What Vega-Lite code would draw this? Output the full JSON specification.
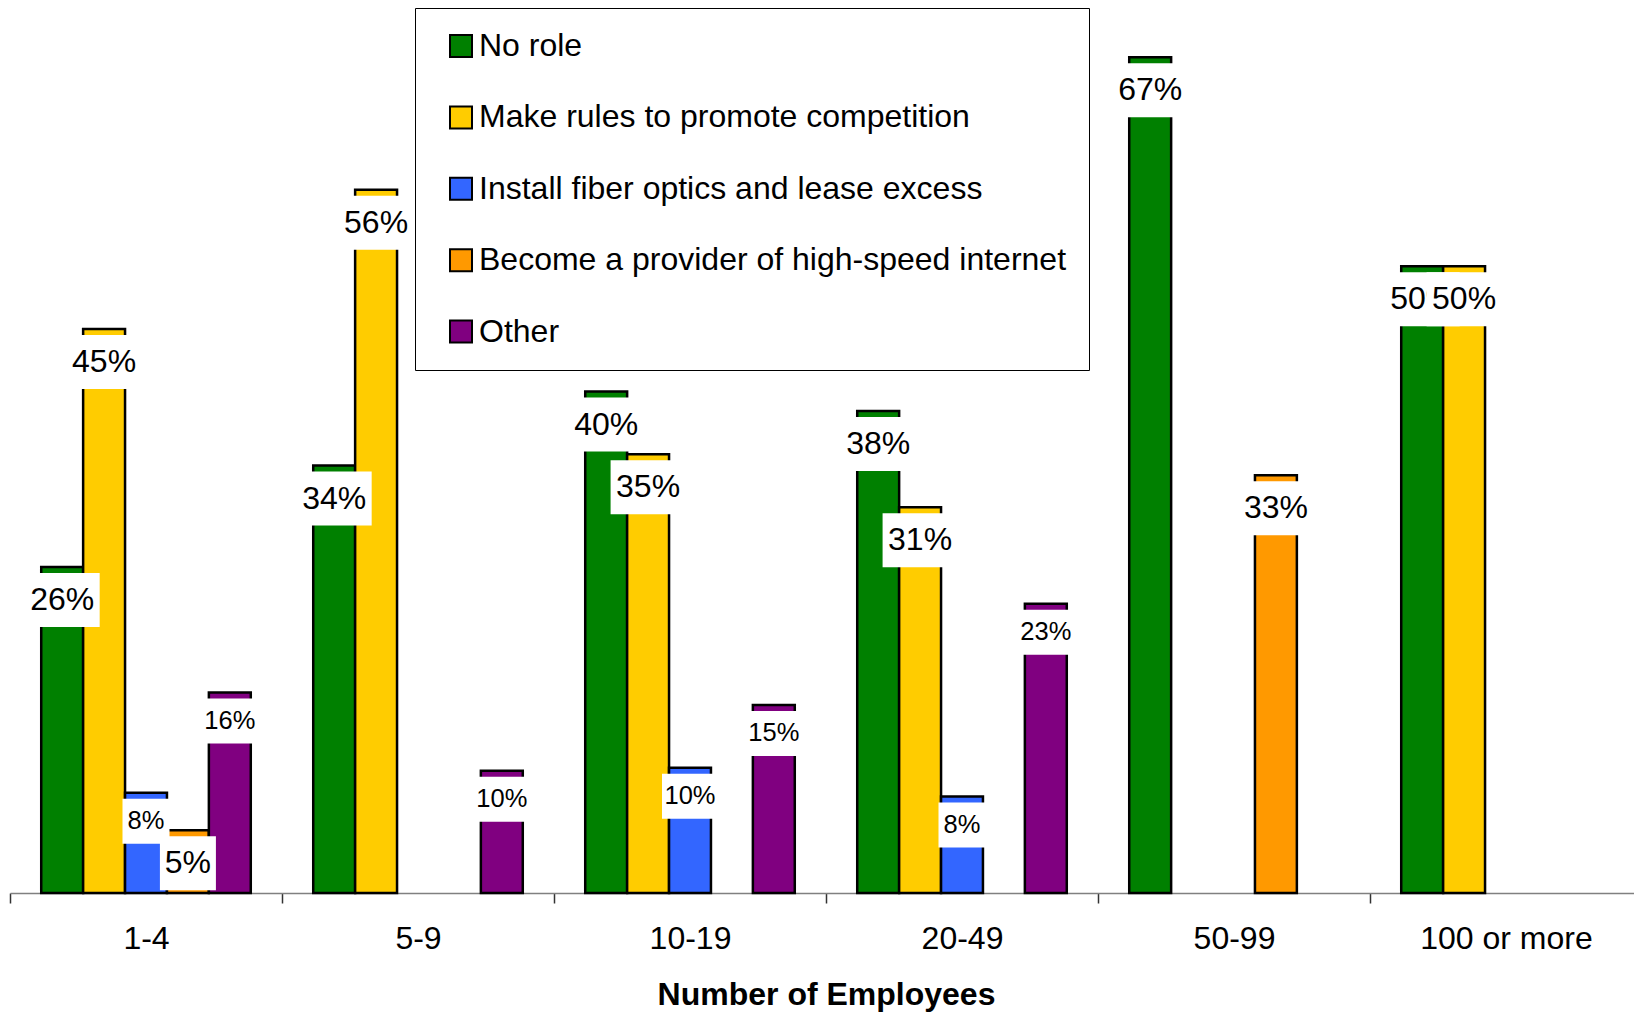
{
  "$schema": "https://vega.github.io/schema/vega-lite/v6.json",
  "width": 1632,
  "height": 893,
  "autosize": {"type": "none"},
  "padding": {"left": 10, "top": 0, "right": 0, "bottom": 120},
  "background": "white",
  "config": {"view": {"stroke": null}, "font": "Liberation Sans"},
  "data": {
    "values": [
      {"employees": "1-4", "role": "No role", "share": 0.26},
      {"employees": "1-4", "role": "Make rules to promote competition", "share": 0.45},
      {"employees": "1-4", "role": "Install fiber optics and lease excess", "share": 0.08},
      {"employees": "1-4", "role": "Become a provider of high-speed internet", "share": 0.05},
      {"employees": "1-4", "role": "Other", "share": 0.16},
      {"employees": "5-9", "role": "No role", "share": 0.341},
      {"employees": "5-9", "role": "Make rules to promote competition", "share": 0.561},
      {"employees": "5-9", "role": "Other", "share": 0.0976},
      {"employees": "10-19", "role": "No role", "share": 0.40},
      {"employees": "10-19", "role": "Make rules to promote competition", "share": 0.35},
      {"employees": "10-19", "role": "Install fiber optics and lease excess", "share": 0.10},
      {"employees": "10-19", "role": "Other", "share": 0.15},
      {"employees": "20-49", "role": "No role", "share": 0.3846},
      {"employees": "20-49", "role": "Make rules to promote competition", "share": 0.3077},
      {"employees": "20-49", "role": "Install fiber optics and lease excess", "share": 0.0769},
      {"employees": "20-49", "role": "Other", "share": 0.2308},
      {"employees": "50-99", "role": "No role", "share": 0.6667},
      {"employees": "50-99", "role": "Become a provider of high-speed internet", "share": 0.3333},
      {"employees": "100 or more", "role": "No role", "share": 0.50},
      {"employees": "100 or more", "role": "Make rules to promote competition", "share": 0.50}
    ]
  },
  "encoding": {
    "x": {
      "field": "employees",
      "type": "nominal",
      "sort": ["1-4", "5-9", "10-19", "20-49", "50-99", "100 or more"],
      "scale": {"paddingInner": 0, "paddingOuter": 0},
      "axis": {
        "title": "Number of Employees",
        "titleFont": "Liberation Sans",
        "titleFontSize": 32,
        "titleFontWeight": "bold",
        "titleColor": "black",
        "titlePadding": 25,
        "labelFont": "Liberation Sans",
        "labelFontSize": 32,
        "labelColor": "black",
        "labelAngle": 0,
        "labelPadding": 20,
        "tickBand": "extent",
        "tickSize": 10,
        "tickColor": "#333333",
        "tickWidth": 1.5,
        "domainColor": "#808080",
        "domainWidth": 1.5,
        "grid": false
      }
    },
    "xOffset": {
      "field": "role",
      "type": "nominal",
      "scale": {
        "domain": ["No role", "Make rules to promote competition", "Install fiber optics and lease excess", "Become a provider of high-speed internet", "Other"],
        "paddingInner": 0,
        "paddingOuter": 0.745
      }
    },
    "y": {
      "field": "share",
      "type": "quantitative",
      "stack": null,
      "scale": {"domain": [0, 0.7124], "nice": false, "zero": true},
      "axis": null
    }
  },
  "layer": [
    {
      "mark": {"type": "bar", "stroke": "black", "strokeWidth": 2.5},
      "encoding": {
        "color": {
          "field": "role",
          "type": "nominal",
          "scale": {
            "domain": ["No role", "Make rules to promote competition", "Install fiber optics and lease excess", "Become a provider of high-speed internet", "Other"],
            "range": ["#008000", "#FFCC00", "#3366FF", "#FF9900", "#800080"]
          },
          "legend": {
            "orient": "none",
            "legendX": 405,
            "legendY": 8,
            "direction": "vertical",
            "title": null,
            "labelFont": "Liberation Sans",
            "labelFontSize": 32,
            "labelColor": "black",
            "labelLimit": 0,
            "labelOffset": 2,
            "symbolType": "square",
            "symbolSize": 484,
            "symbolStrokeColor": "black",
            "symbolStrokeWidth": 2,
            "symbolOffset": 8,
            "rowPadding": 39.4,
            "padding": 22,
            "strokeColor": "black",
            "fillColor": "white"
          }
        }
      }
    },
    {
      "transform": [{"filter": "datum.role === 'No role'"}],
      "mark": {"type": "bar", "fill": "white", "yOffset": 6, "y2Offset": 60},
      "encoding": {
        "y2": {"field": "share"},
        "size": {"condition": {"test": "datum.share < 0.095", "value": 56}, "value": 75}
      }
    },
    {
      "transform": [{"filter": "datum.role === 'No role'"}],
      "mark": {"type": "text", "baseline": "middle", "dy": 33, "fontSize": 32, "font": "Liberation Sans", "color": "black"},
      "encoding": {"text": {"field": "share", "type": "quantitative", "format": ".0%"}}
    },
    {
      "transform": [{"filter": "datum.role === 'Make rules to promote competition' || datum.role === 'Become a provider of high-speed internet'"}],
      "mark": {"type": "bar", "fill": "white", "yOffset": 6, "y2Offset": 60},
      "encoding": {
        "y2": {"field": "share"},
        "size": {"condition": {"test": "datum.share < 0.095", "value": 56}, "value": 75}
      }
    },
    {
      "transform": [{"filter": "datum.role === 'Make rules to promote competition' || datum.role === 'Become a provider of high-speed internet'"}],
      "mark": {"type": "text", "baseline": "middle", "dy": 33, "fontSize": 32, "font": "Liberation Sans", "color": "black"},
      "encoding": {"text": {"field": "share", "type": "quantitative", "format": ".0%"}}
    },
    {
      "transform": [{"filter": "datum.role === 'Install fiber optics and lease excess' || datum.role === 'Other'"}],
      "mark": {"type": "bar", "fill": "white", "yOffset": 6, "y2Offset": 51},
      "encoding": {
        "y2": {"field": "share"},
        "size": {"condition": {"test": "datum.share < 0.095", "value": 47}, "value": 56}
      }
    },
    {
      "transform": [{"filter": "datum.role === 'Install fiber optics and lease excess' || datum.role === 'Other'"}],
      "mark": {"type": "text", "baseline": "middle", "dy": 28.5, "fontSize": 25.5, "font": "Liberation Sans", "color": "black"},
      "encoding": {"text": {"field": "share", "type": "quantitative", "format": ".0%"}}
    }
  ]
}
